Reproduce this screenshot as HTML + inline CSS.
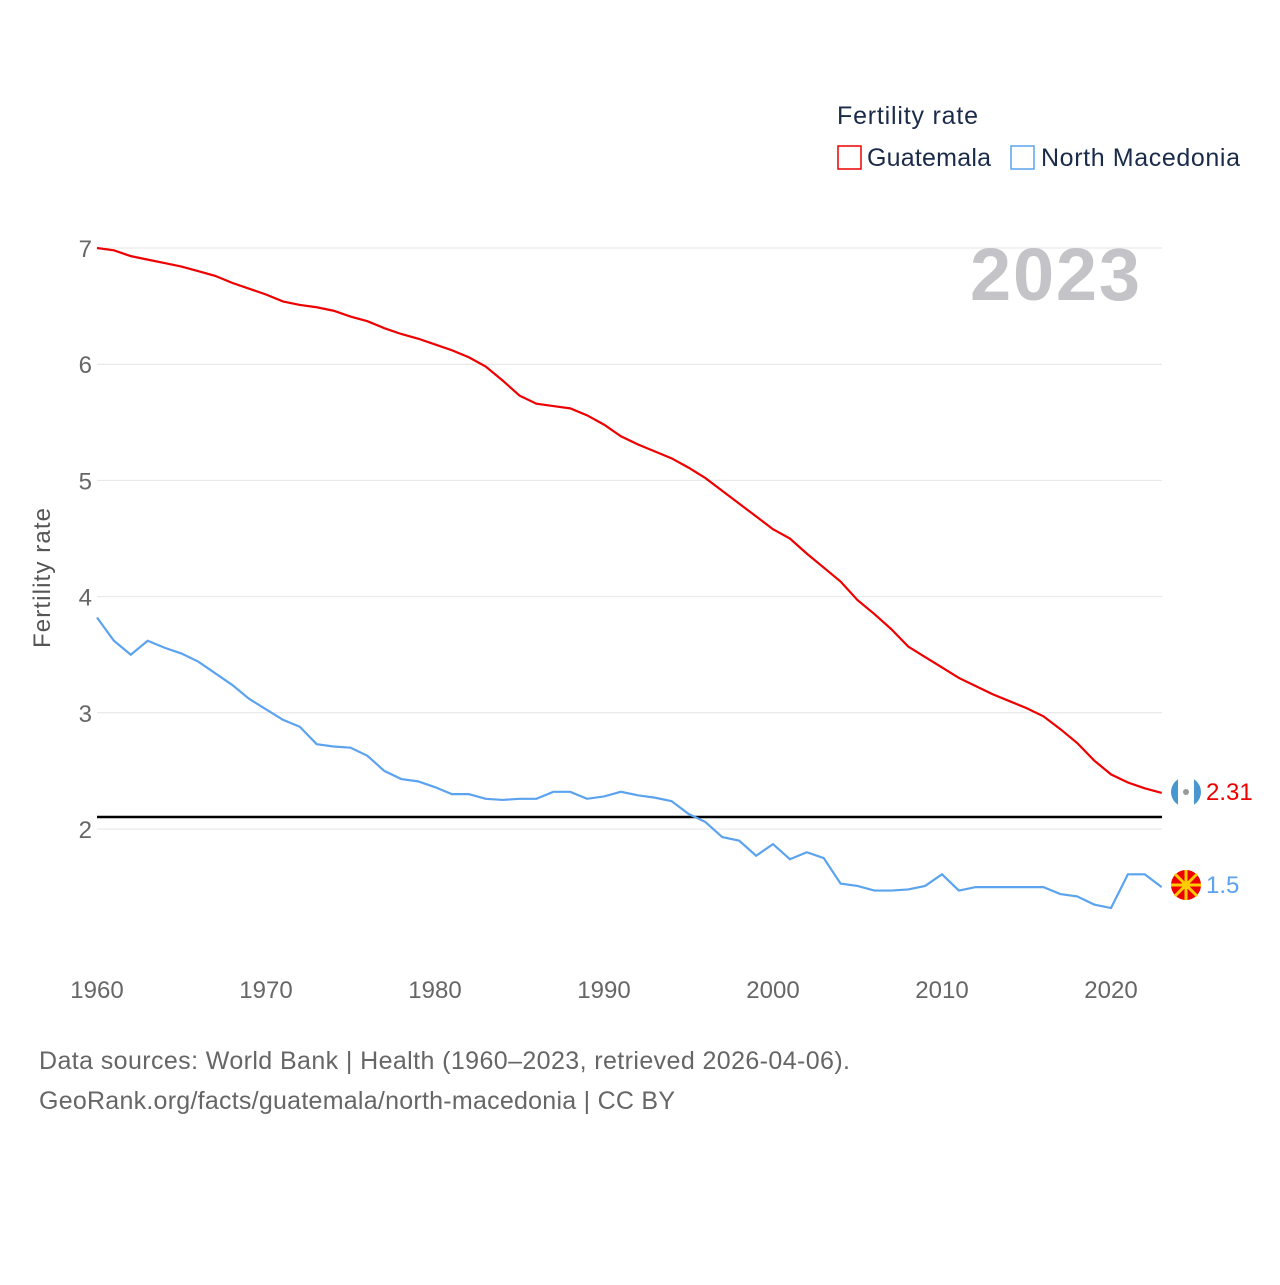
<!DOCTYPE html>
<html><head><meta charset="utf-8"><style>
body{margin:0;background:#fff;font-family:"Liberation Sans",sans-serif}
</style></head><body>
<svg id="chart" width="1280" height="1280" xmlns="http://www.w3.org/2000/svg" font-family="Liberation Sans, sans-serif">
<rect width="1280" height="1280" fill="#fff"/>
<g id="grid"></g>
<g id="xt"></g>
<line x1="97" x2="1162" y1="817" y2="817" stroke="#000" stroke-width="2.5"/>
<g id="lines"></g>
<text x="1140" y="300" text-anchor="end" font-size="74" font-weight="bold" fill="#c4c4c8" textLength="170">2023</text>
<text transform="translate(50,578) rotate(-90)" text-anchor="middle" font-size="24" fill="#555" textLength="140">Fertility rate</text>
<text x="837" y="124" font-size="25" fill="#1a2b4a" textLength="141">Fertility rate</text>
<g><rect x="838" y="146" width="23" height="23" fill="none" stroke="#e00" stroke-width="1.5"/><text x="867" y="166" font-size="25" fill="#1a2b4a" textLength="124">Guatemala</text></g>
<g><rect x="1011" y="146" width="23" height="23" fill="none" stroke="#5ba3ee" stroke-width="1.5"/><text x="1041" y="166" font-size="25" fill="#1a2b4a" textLength="199">North Macedonia</text></g>
<g><circle cx="1186" cy="792" r="15" fill="#4997d0"/><rect x="1178" y="777" width="16" height="30" fill="#fff"/><circle cx="1186" cy="792" r="3" fill="#999"/></g>
<g><circle cx="1186" cy="885" r="15" fill="#e00"/><path d="M1186 885 L1171 885 M1186 885 L1201 885 M1186 885 L1186 870 M1186 885 L1186 900 M1186 885 L1175 874 M1186 885 L1197 896 M1186 885 L1197 874 M1186 885 L1175 896" stroke="#fc0" stroke-width="3"/><circle cx="1186" cy="885" r="4" fill="#fc0"/></g>
<text x="1206" y="800" font-size="24" fill="#e00">2.31</text>
<text x="1206" y="893" font-size="24" fill="#5ba3ee">1.5</text>
<text x="39" y="1069" font-size="25" fill="#666" textLength="811">Data sources: World Bank | Health (1960–2023, retrieved 2026-04-06).</text>
<text x="39" y="1109" font-size="25" fill="#666" textLength="636">GeoRank.org/facts/guatemala/north-macedonia | CC BY</text>
</svg>
<script>
const years=[];for(let y=1960;y<=2023;y++)years.push(y);
const guatemala=[7.0,6.98,6.93,6.9,6.87,6.84,6.80,6.76,6.70,6.65,6.60,6.54,6.51,6.49,6.46,6.41,6.37,6.31,6.26,6.22,6.17,6.12,6.06,5.98,5.86,5.73,5.66,5.64,5.62,5.56,5.48,5.38,5.31,5.25,5.19,5.11,5.02,4.91,4.80,4.69,4.58,4.50,4.37,4.25,4.13,3.97,3.85,3.72,3.57,3.48,3.39,3.30,3.23,3.16,3.10,3.04,2.97,2.86,2.74,2.59,2.47,2.40,2.35,2.31];
const macedonia=[3.82,3.62,3.50,3.62,3.56,3.51,3.44,3.34,3.24,3.12,3.03,2.94,2.88,2.73,2.71,2.70,2.63,2.50,2.43,2.41,2.36,2.30,2.30,2.26,2.25,2.26,2.26,2.32,2.32,2.26,2.28,2.32,2.29,2.27,2.24,2.13,2.06,1.93,1.90,1.77,1.87,1.74,1.80,1.75,1.53,1.51,1.47,1.47,1.48,1.51,1.61,1.47,1.50,1.50,1.50,1.50,1.50,1.44,1.42,1.35,1.32,1.61,1.61,1.50];
const yTicks=[2,3,4,5,6,7];
const xTicks=[1960,1970,1980,1990,2000,2010,2020];
const X=y=>97+(y-1960)*(1111-97)/60;
const Y=v=>829-(v-2)*(829-248)/5;
const NS="http://www.w3.org/2000/svg";
const g=document.getElementById('grid'),xt=document.getElementById('xt'),L=document.getElementById('lines');
yTicks.forEach(t=>{
 const l=document.createElementNS(NS,'line');
 
 
 l.setAttribute('x1',97);l.setAttribute('x2',1162);l.setAttribute('y1',Y(t));l.setAttribute('y2',Y(t));
 l.setAttribute('stroke','#e4e4e4');g.appendChild(l);
 const tx=document.createElementNS(NS,'text');
 
 
 tx.setAttribute('x',92);tx.setAttribute('y',Y(t)+9);tx.setAttribute('text-anchor','end');
 tx.setAttribute('font-size','24');tx.setAttribute('fill','#666');tx.textContent=t;g.appendChild(tx);
});
xTicks.forEach(t=>{
 const tx=document.createElementNS(NS,'text');
 
 
 tx.setAttribute('x',X(t));tx.setAttribute('y',998);tx.setAttribute('text-anchor','middle');
 tx.setAttribute('font-size','24');tx.setAttribute('fill','#666');tx.textContent=t;xt.appendChild(tx);
});
function line(data,color,name){
 const p=document.createElementNS(NS,'polyline');
 
 
 p.setAttribute('points',data.map((v,i)=>X(years[i])+','+Y(v)).join(' '));
 p.setAttribute('fill','none');p.setAttribute('stroke',color);p.setAttribute('stroke-width','2.2');
 L.appendChild(p);
}
line(guatemala,'#e00','guatemala-line');
line(macedonia,'#5ba3ee','north-macedonia-line');
</script>
</body></html>
